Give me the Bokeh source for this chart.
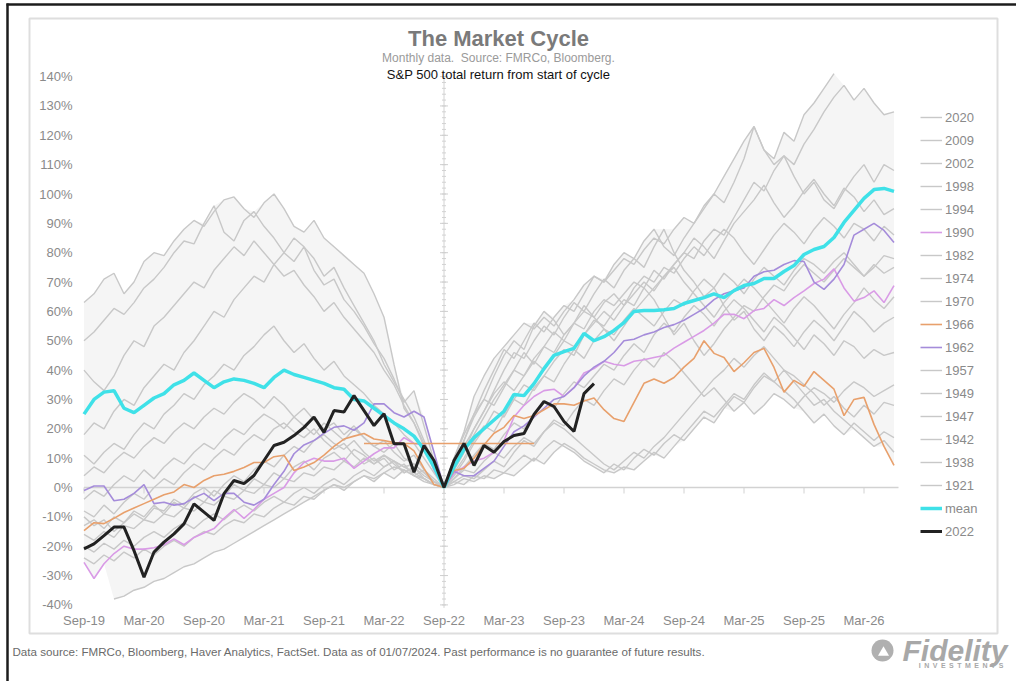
import numpy as np
from bokeh.plotting import figure
from bokeh.models import Range1d, Legend, LegendItem
from bokeh.core.properties import value
from bokeh.embed import file_html
from bokeh.resources import INLINE

nan = float("nan")

# ---------------- data ----------------
cycle_month = list(range(-36, 46))   # months from start of cycle (Sep-22 = 0)
x_tick_labels = ["Sep-19", "Mar-20", "Sep-20", "Mar-21", "Sep-21", "Mar-22", "Sep-22",
                 "Mar-23", "Sep-23", "Mar-24", "Sep-24", "Mar-25", "Sep-25", "Mar-26"]
x_tick_months = [-36, -30, -24, -18, -12, -6, 0, 6, 12, 18, 24, 30, 36, 42]
y_tick_values = [140, 130, 120, 110, 100, 90, 80, 70, 60, 50, 40, 30, 20, 10, 0, -10, -20, -30, -40]

# S&P 500 total return (%) from start of cycle, monthly (pre-cycle 36 months, start, 45 months after)
y2020 = ([nan, nan, nan, -38, -37, -35, -34, -32, -31, -29, -27, -26, -24, -22, -21, -19, -17, -15,
          -13, -11, -9, -7, -5, -3, -1, 1, 0, 2, 4, 3, 5, 7, 6, 4, 3, 1] + [0] +
         [10, 18, 25, 30, 28, 34, 40, 38, 44, 48, 46, 52, 56, 54, 60, 64, 62, 66, 70, 68, 64, 58, 52,
          56, 50, 45, 49, 54, 58, 62, 60, 65, 69, 67, 72, 76, 73, 70, 74, 78, 75, 72, 76, 73, 75])
y2009 = ([63, 66, 71, 73, 66, 70, 77, 80, 79, 84, 88, 91, 89, 94, 98, 99, 95, 92, 97, 100, 95, 89,
          87, 91, 85, 82, 79, 76, 73, 66, 58, 42, 27, 22, 14, 6] + [0] +
         [10, 19, 31, 38, 44, 48, 52, 56, 54, 58, 55, 60, 64, 69, 72, 70, 74, 78, 76, 81, 85, 83, 88,
          92, 90, 95, 100, 97, 104, 112, 123, 115, 112, 121, 118, 127, 131, 136, 141,
          nan, nan, nan, nan, nan, nan])
y2002 = ([50, 53, 57, 61, 59, 63, 68, 71, 75, 80, 84, 83, 90, 96, 87, 84, 91, 94, 89, 85, 80, 77,
          82, 74, 69, 71, 64, 60, 55, 49, 44, 37, 29, 33, 21, 9] + [0] +
         [6, 14, 20, 26, 32, 36, 33, 38, 43, 40, 45, 50, 48, 52, 56, 60, 57, 62, 66, 70, 67, 72, 76,
          80, 78, 84, 88, 86, 92, 98, 104, 101, 108, 113, 110, 117, 122, 128, 133, 137, 132, 136,
          131, 127, 128])
y1998 = ([40, 36, 33, 38, 45, 50, 48, 55, 58, 62, 66, 70, 68, 74, 78, 82, 79, 84, 80, 76, 72, 74,
          69, 65, 60, 63, 58, 54, 50, 46, 40, 35, 28, 22, 15, 7] + [0] +
         [8, 16, 25, 33, 40, 47, 44, 50, 56, 53, 58, 62, 60, 66, 72, 70, 76, 80, 78, 84, 88, 82, 79,
          85, 90, 96, 100, 106, 112, 118, 123, 115, 110, 113, 106, 100, 104, 98, 95, 101, 106, 110,
          104, 110, 108])
y1994 = ([18, 22, 20, 26, 30, 28, 34, 38, 42, 40, 46, 50, 55, 60, 58, 64, 68, 72, 70, 76, 80, 85,
          82, 78, 72, 75, 68, 62, 56, 50, 42, 36, 30, 24, 16, 8] + [0] +
         [4, 9, 15, 20, 26, 24, 30, 35, 33, 38, 43, 47, 45, 52, 57, 55, 60, 64, 62, 68, 74, 71, 76,
          80, 85, 82, 78, 84, 90, 94, 98, 103, 97, 92, 96, 101, 105, 100, 96, 102, 99, 94, 98, 93, 95])
y1990 = ([-25.5, -31, -26, -22.5, -20, -21, -21, -20.5, -19.5, -17.5, -19.5, -17, -15.5, -14, -10.5,
          -7.5, -10.5, -7.5, -4, -2, 0, 5, 8.5, 10, 9, 9, 10, 6.5, 9, 11.5, 13.5, 13.5, 17, 15, 14.5,
          6] + [0] +
         [4.8, 7, 9, 10, 12, 16, 24, 28, 31, 33, 33.5, 31, 34, 39, 40.5, 43, 42, 41.5, 43, 43.5, 44.3,
          45, 47.5, 49.5, 51.5, 53.5, 56, 59, 59, 57.5, 60.3, 61, 64, 62, 64.7, 67, 69.5, 71, 74.5,
          68, 63.5, 64.7, 67, 63, 68.8])
y1982 = ([11, 8, 12, 15, 13, 18, 22, 20, 25, 28, 32, 30, 35, 38, 42, 40, 45, 48, 52, 55, 50, 46,
          49, 44, 40, 43, 38, 35, 32, 28, 25, 22, 18, 15, 10, 5] + [0] +
         [6, 12, 18, 24, 30, 35, 40, 46, 42, 48, 53, 50, 56, 60, 58, 63, 66, 62, 68, 72, 70, 75, 73,
          78, 82, 79, 84, 88, 85, 80, 76, 81, 86, 90, 87, 83, 88, 92, 89, 85, 90, 88, 84, 89, 86])
y1974 = ([4, 7, 5, 9, 12, 10, 14, 17, 15, 19, 22, 20, 24, 27, 25, 29, 32, 30, 27, 31, 28, 24, 27,
          23, 20, 22, 18, 21, 17, 14, 16, 12, 9, 11, 6, 3] + [0] +
         [5, 10, 16, 21, 19, 25, 30, 28, 34, 38, 36, 42, 47, 44, 50, 54, 52, 57, 61, 58, 55, 60, 64,
          62, 67, 71, 68, 73, 70, 66, 71, 75, 72, 69, 74, 78, 76, 73, 77, 80, 76, 72, 75, 79, 78])
y1970 = ([-4, -1, -3, 1, 4, 2, 6, 3, 7, 10, 8, 12, 15, 13, 17, 20, 18, 22, 25, 23, 20, 24, 21, 18,
          22, 19, 16, 20, 17, 14, 12, 15, 10, 8, 5, 2] + [0] +
         [8, 16, 24, 30, 38, 45, 50, 47, 55, 60, 57, 52, 56, 62, 58, 54, 50, 55, 60, 64, 68, 72, 75,
          70, 66, 62, 58, 63, 67, 71, 68, 64, 60, 56, 61, 65, 62, 58, 54, 59, 63, 68, 64, 61, 65])
y1966 = ([-14.7, -12, -12.3, -10.5, -8.5, -7, -5.5, -4, -2.5, -1.5, 1, 0, 2.4, 4, 4.5, 5.5, 6.8,
          8.5, 8.5, 10.5, 11, 5.8, 7, 8.5, 11, 14, 16.5, 17.5, 18.4, 16.5, 16, 15.3, 15, 12.5, 6.5,
          1] + [0] +
         [5.8, 6.5, 10, 14.5, 18.5, 20.5, 24.5, 23.5, 24.5, 26.5, 28.5, 28.5, 28, 29.5, 30.5, 26.5,
          23.5, 22.5, 29, 35.5, 37, 35.5, 37.5, 41, 44, 50, 45.7, 44.3, 39.5, 42.5, 46, 47.4, 40.9,
          32.5, 36.5, 34.5, 39.5, 36.5, 33.5, 24.5, 30, 30.7, 21.5, 14, 7.5])
y1962 = ([-1, 0.5, 0.5, -4.5, -4, -2, 1, -5.5, -5, -6, -5.5, -3.5, -2, -4.5, -2, -2, -5, -6, -4, 1,
          5.5, 11.5, 14.5, 16, 18.5, 20.5, 21, 19.5, 22, 28.5, 28.5, 25.5, 24, 26, 24, 12] + [0] +
         [5.5, 4, 4, 6.5, 9, 14, 19, 21, 24, 27, 30, 31, 34, 38, 41, 43, 46, 50, 50.5, 52, 53, 54.5,
          55.5, 57, 59, 61, 64, 66, 67, 68, 72, 73.5, 74, 76, 77.3, 77, 70, 67.5, 71, 76, 86, 88, 90,
          87.6, 83.5])
y1957 = ([-8, -10, -6, -9, -5, -2, -4, 0, 3, 1, 5, 8, 6, 10, 13, 11, 15, 18, 16, 20, 22, 19, 17,
          20, 16, 13, 15, 11, 8, 10, 7, 9, 5, 7, 3, 1] + [0] +
         [6, 12, 20, 26, 33, 40, 46, 44, 50, 55, 52, 58, 63, 60, 66, 71, 68, 74, 78, 75, 82, 88, 80,
          74, 70, 65, 68, 62, 57, 60, 54, 50, 55, 52, 48, 53, 57, 54, 50, 55, 60, 57, 53, 56, 58])
y1949 = ([-10, -13, -11, -15, -12, -9, -11, -7, -8, -4, -6, -2, 0, -3, 1, 4, 2, 6, 9, 7, 11, 14,
          12, 16, 18, 15, 13, 16, 12, 9, 11, 8, 5, 7, 4, 2] + [0] +
         [3, 7, 11, 15, 13, 18, 22, 20, 25, 29, 27, 32, 36, 34, 38, 42, 40, 45, 49, 46, 52, 56, 53,
          58, 62, 59, 55, 60, 64, 61, 57, 53, 58, 55, 51, 47, 52, 49, 45, 50, 48, 44, 47, 45, 46])
y1947 = ([-13, -11, -14, -10, -12, -8, -10, -6, -9, -5, -7, -3, -5, -1, -3, 1, -1, 3, 1, 5, 3, 7,
          9, 6, 10, 12, 9, 13, 11, 8, 10, 6, 8, 4, 6, 2] + [0] +
         [2, 4, 3, 6, 9, 7, 12, 16, 14, 19, 23, 21, 26, 30, 28, 33, 37, 35, 40, 44, 41, 46, 43, 39,
          35, 31, 34, 30, 26, 29, 25, 28, 32, 30, 27, 31, 34, 32, 29, 33, 36, 34, 31, 33, 35])
y1942 = ([-16, -18, -15, -17, -13, -14, -11, -12, -9, -10, -7, -8, -5, -6, -3, -4, -1, -2, 1, 0,
          3, 2, 5, 4, 7, 6, 9, 7, 10, 8, 11, 9, 7, 8, 5, 2] + [0] +
         [2, 1, 4, 3, 6, 5, 8, 11, 9, 13, 16, 14, 12, 9, 7, 5, 8, 6, 10, 13, 11, 15, 18, 16, 20, 24,
          22, 27, 31, 29, 34, 38, 36, 40, 38, 35, 32, 28, 31, 27, 24, 28, 25, 29, 28])
y1938 = ([-20, -22, -19, -21, -18, -20, -17, -15, -17, -14, -12, -14, -11, -9, -11, -8, -6, -8,
          -5, -3, -5, -2, 0, -2, 1, 3, 1, 4, 6, 4, 7, 9, 7, 5, 3, 1] + [0] +
         [1, 3, 2, 4, 3, 5, 4, 7, 10, 8, 12, 15, 13, 10, 8, 6, 5, 7, 6, 9, 12, 10, 14, 18, 22, 26,
          24, 28, 32, 30, 35, 39, 36, 33, 30, 26, 22, 25, 21, 18, 22, 19, 16, 19, 17])
y1921 = ([-24, -26, -23, -25, -22, -24, -21, -23, -20, -18, -20, -17, -15, -16, -13, -11, -12, -9,
          -10, -7, -5, -6, -3, -4, -1, 1, -1, 2, 4, 2, 5, 3, 6, 4, 2, 1] + [0] +
         [3, 6, 5, 9, 12, 10, 14, 17, 15, 19, 22, 20, 17, 14, 11, 8, 6, 9, 12, 10, 14, 17, 21, 25,
          29, 33, 37, 40, 44, 41, 45, 48, 44, 40, 36, 32, 28, 30, 26, 23, 20, 17, 14, 16, 12])
y_mean = ([25, 30, 32.5, 33, 27, 25.5, 28, 30.5, 32, 35, 36.5, 39, 36.5, 34, 36, 37, 36.5, 35.5,
           34, 37.5, 40, 38.5, 37.5, 36.5, 35.5, 34, 33.5, 30, 29.5, 27, 24.5, 22, 20, 17.5, 13,
           7] + [0] +
          [7, 13, 17, 20, 23, 26, 31.7, 31.3, 35.4, 40.5, 45, 46.3, 47.4, 52.5, 50, 51.4, 53.5, 56.2,
           60, 60.3, 60.3, 60.6, 61, 62.7, 63.7, 64.7, 66, 64.7, 67.1, 68.8, 69.5, 71.2, 71.2, 73.6,
           75.6, 79.4, 81.1, 82.1, 85.2, 90.3, 94.4, 98.5, 101.5, 101.9, 100.9])
y2022 = ([-20.9, -19.2, -16.4, -13.5, -13.5, -21.5, -30.6, -22, -18.6, -15.8, -12.4, -5.6, -8.4,
          -11.2, -2.1, 2.4, 1.3, 4.1, 9.2, 14.3, 15.4, 17.7, 20.5, 24, 18.8, 26.2, 25.7, 31.3, 26.2,
          21.1, 25.1, 14.9, 14.9, 5.2, 14.3, 9.2] + [0] +
         [9.2, 15, 7.5, 14.3, 12, 15.7, 17.7, 18.4, 24.9, 29.3, 27.6, 22.5, 19.1, 32, 35.4])
ref1966_months = [-8, 9]     # flat 1966 reference level
ref1966_level = [15, 15]

legend_order = ["2020", "2009", "2002", "1998", "1994", "1990", "1982", "1974", "1970", "1966",
                "1962", "1957", "1949", "1947", "1942", "1938", "1921"]
history = {"2020": y2020, "2009": y2009, "2002": y2002, "1998": y1998, "1994": y1994,
           "1990": y1990, "1982": y1982, "1974": y1974, "1970": y1970, "1966": y1966,
           "1962": y1962, "1957": y1957, "1949": y1949, "1947": y1947, "1942": y1942,
           "1938": y1938, "1921": y1921}
for k, v in history.items():
    assert len(v) == len(cycle_month), (k, len(v))
assert len(y_mean) == len(cycle_month)

# ---------------- styling / layout ----------------
FONT = "Liberation Sans"
GRAY = "#c8c8c8"
HIGHLIGHT = {"1990": "#d99be6", "1966": "#e8a06c", "1962": "#a58cda"}
MEAN_COLOR = "#3fe1e8"
CUR_COLOR = "#222222"
W, H = 1016, 681


def sx(px):   # canvas pixel -> cycle month
    return (px - 443.5) / 10.0


def sy(py):   # canvas pixel -> percent
    return (487.0 - py) / 2.935


p = figure(width=W, height=H, x_range=Range1d(sx(0), sx(W)),
           y_range=Range1d(sy(H), sy(0)), toolbar_location=None, output_backend="svg",
           title=None, x_axis_location=None, y_axis_location=None, min_border=0)
p.grid.visible = False
p.outline_line_color = None
p.background_fill_color = "white"
p.border_fill_color = "white"

# outer frames
p.quad(left=sx(29), right=sx(997), top=sy(18), bottom=sy(633), fill_color=None,
       line_color="#dedede", line_width=2)
p.segment(x0=sx(7), y0=sy(3), x1=sx(7), y1=sy(H), line_color="#1c1c1c", line_width=2.5)
p.segment(x0=sx(6), y0=sy(4), x1=sx(W), y1=sy(4), line_color="#1c1c1c", line_width=2.5)

# min-max band
arr = np.array([history[k] for k in legend_order], dtype=float)
p.varea(x=cycle_month, y1=np.nanmin(arr, axis=0), y2=np.nanmax(arr, axis=0),
        fill_color="#f5f5f5")

# zero line with ticks
p.segment(x0=cycle_month[0], y0=0, x1=sx(898), y1=0, line_color="#d2d2d2", line_width=1.5)
p.segment(x0=x_tick_months, y0=[0] * len(x_tick_months), x1=x_tick_months,
          y1=[sy(493)] * len(x_tick_months), line_color="#d2d2d2", line_width=1)
# vertical axis at start of cycle with ticks
p.segment(x0=0, y0=y_tick_values[-1] - 1, x1=0, y1=y_tick_values[0], line_color="#d2d2d2",
          line_width=1)
minor = list(range(y_tick_values[-1], y_tick_values[0] + 1, 2))
p.segment(x0=[sx(441.5)] * len(minor), y0=minor, x1=[sx(445.5)] * len(minor), y1=minor,
          line_color="#d2d2d2", line_width=1)
p.segment(x0=[sx(439.5)] * len(y_tick_values), y0=y_tick_values,
          x1=[sx(447.5)] * len(y_tick_values), y1=y_tick_values, line_color="#cfcfcf",
          line_width=1)

# series
renderers = {}
for name in legend_order:
    if name not in HIGHLIGHT:
        renderers[name] = p.line(cycle_month, history[name], line_color=GRAY, line_width=1.4)
for name in ["1990", "1962", "1966"]:
    renderers[name] = p.line(cycle_month, history[name], line_color=HIGHLIGHT[name],
                             line_width=1.6)
p.line(ref1966_months, ref1966_level, line_color=HIGHLIGHT["1966"], line_width=1.6)
renderers["mean"] = p.line(cycle_month, y_mean, line_color=MEAN_COLOR, line_width=3.5)
renderers["2022"] = p.line(cycle_month[:len(y2022)], y2022, line_color=CUR_COLOR, line_width=3)

# axis labels
p.text(x=[sx(72)] * len(y_tick_values), y=y_tick_values, text=[f"{v}%" for v in y_tick_values],
       text_align="right", text_baseline="middle", text_font=value(FONT),
       text_font_size="13px", text_color="#8a8a8a")
p.text(x=x_tick_months, y=[sy(620)] * len(x_tick_months), text=x_tick_labels,
       text_align="center", text_baseline="middle", text_font=value(FONT),
       text_font_size="13px", text_color="#8a8a8a")

# titles
p.text(x=[sx(498)], y=[sy(38)], text=["The Market Cycle"], text_align="center",
       text_baseline="middle", text_font=value(FONT), text_font_style="bold",
       text_font_size="22px", text_color="#7a7a7a")
p.text(x=[sx(498)], y=[sy(57)], text=["Monthly data.\u00a0 Source: FMRCo, Bloomberg."],
       text_align="center", text_baseline="middle", text_font=value(FONT),
       text_font_size="12px", text_color="#9a9a9a")
p.text(x=[sx(498)], y=[sy(74)], text=["S&P 500 total return from start of cycle"],
       text_align="center", text_baseline="middle", text_font=value(FONT),
       text_font_size="13px", text_color="#111111")

# footer
p.text(x=[sx(12)], y=[sy(651)],
       text=["Data source: FMRCo, Bloomberg, Haver Analytics, FactSet. Data as of 01/07/2024. "
             "Past performance is no guarantee of future results."],
       text_align="left", text_baseline="middle", text_font=value(FONT),
       text_font_size="11.6px", text_color="#6a6a6a")

# Fidelity logo
p.scatter(x=[sx(882)], y=[sy(650)], marker="circle", size=22, fill_color="#b0b0b0",
          line_color=None)
p.scatter(x=[sx(883)], y=[sy(652)], marker="triangle", size=11, fill_color="white",
          line_color=None)
p.text(x=[sx(1007)], y=[sy(650)], text=["Fidelity"], text_align="right", text_baseline="middle",
       text_font=value(FONT), text_font_style="bold italic", text_font_size="30px",
       text_color="#a8a8a8")
p.text(x=[sx(1003)], y=[sy(665)], text=["I\u2002N\u2002V\u2002E\u2002S\u2002T\u2002M\u2002E\u2002N\u2002T\u2002S"],
       text_align="right", text_baseline="middle", text_font=value(FONT),
       text_font_style="bold", text_font_size="7px", text_color="#a8a8a8")

# legend
items = [LegendItem(label=n, renderers=[renderers[n]]) for n in legend_order + ["mean", "2022"]]
legend = Legend(items=items, location=(920, 140), glyph_width=22, glyph_height=20,
                label_height=20, label_standoff=3, spacing=3, padding=0, margin=0,
                border_line_color=None, background_fill_alpha=0,
                label_text_font=FONT, label_text_font_size="13px", label_text_color="#8a8a8a")
p.add_layout(legend)

open("out.html", "w").write(file_html(p, INLINE))
